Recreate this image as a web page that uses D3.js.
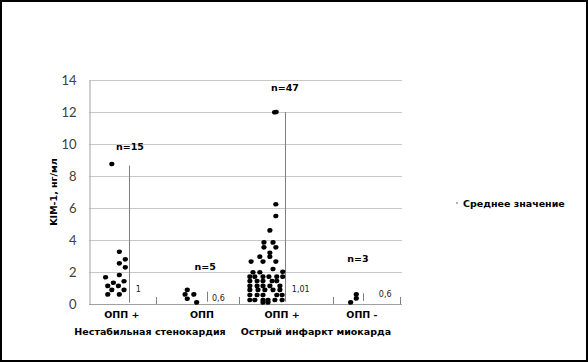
<!DOCTYPE html>
<html>
<head>
<meta charset="utf-8">
<script src="https://cdn.jsdelivr.net/npm/d3@7"></script>
<style>
  body { margin: 0; background: #fff; }
  svg { display: block; }
  .grid line { stroke: #c8c8c8; }
  .tick-lbl { font-family: Lato, sans-serif; font-size: 13px; fill: #404040; }
  .bold { font-family: 'DejaVu Sans', sans-serif; font-weight: bold; font-size: 9.5px; fill: #000; }
  .mean-lbl { font-family: 'DejaVu Sans', sans-serif; font-size: 8px; fill: #222; }
</style>
</head>
<body>
<div id="chart"></div>
<script>
// KIM-1 values, ng/ml; x is the jitter position along the group axis
const unstableAnginaAKIPos = [
  [0.73, 8.75], [0.97, 3.27], [0.97, 2.54], [1.16, 2.79], [1.16, 2.29],
  [0.97, 1.81], [0.53, 1.67], [0.60, 1.13], [0.78, 1.33], [0.94, 1.13],
  [1.12, 1.42], [0.73, 0.88], [1.12, 0.88], [0.60, 0.60], [0.97, 0.60]
];
const unstableAnginaAKINeg = [
  [3.14, 0.88], [3.07, 0.60], [3.35, 0.60], [3.14, 0.33], [3.44, 0.10]
];
const infarctionAKIPos = [
  [5.93, 11.98], [5.98, 12.0], [5.97, 6.23], [5.97, 5.5], [5.78, 4.6],
  [5.59, 3.85], [5.88, 3.85], [5.59, 3.54], [5.97, 3.54], [5.78, 3.2],
  [5.46, 2.96], [5.78, 2.96], [5.18, 2.65], [5.56, 2.65], [5.97, 2.65],
  [5.88, 2.19], [5.24, 1.98], [5.46, 1.98], [6.19, 2.02],
  [5.14, 1.71], [5.30, 1.71], [5.56, 1.71], [5.75, 1.71], [6.00, 1.71], [6.19, 1.71],
  [5.14, 1.44], [5.37, 1.44], [5.56, 1.44], [5.85, 1.44], [6.00, 1.44],
  [5.14, 1.13], [5.37, 1.13], [5.56, 1.13], [5.78, 1.13], [6.10, 1.13],
  [5.14, 0.88], [5.40, 0.88], [5.62, 0.88], [5.88, 0.88], [6.10, 0.88],
  [5.14, 0.56], [5.37, 0.56], [5.56, 0.56], [6.00, 0.56], [6.17, 0.56],
  [5.14, 0.25], [5.30, 0.25], [5.56, 0.25], [5.72, 0.25], [5.94, 0.25], [6.17, 0.25],
  [5.56, 0.10], [5.72, 0.10]
];
const infarctionAKINeg = [
  [8.36, 0.10], [8.54, 0.35], [8.54, 0.60]
];

// vertical range lines: [x, yLow, yHigh]
const rangeLines = [
  [1.27, 0.08, 8.65], [3.77, 0.14, 0.77], [6.26, 0.14, 12.0], [8.74, 0.19, 0.67]
];
// mean labels: [x, y, text]
const meanLabels = [
  [1.49, 0.96, '1'], [3.93, 0.37, '0,6'], [6.48, 0.96, '1,01'], [9.26, 0.62, '0,6']
];
// group sizes: [x, y, text]
const countLabels = [
  [1.31, 9.8, 'n=15'], [3.71, 2.3, 'n=5'], [6.26, 13.5, 'n=47'], [8.59, 2.8, 'n=3']
];
const separators = [2.14, 4.79, 7.80, 9.94];
const subgroupLabels = [[1.05, 'ОПП +'], [3.61, 'ОПП'], [6.17, 'ОПП +'], [8.72, 'ОПП -']];
const groupLabels = [[1.95, 'Нестабильная стенокардия'], [7.25, 'Острый инфаркт миокарда']];
const yTicks = [0, 2, 4, 6, 8, 10, 12, 14];
const yTitle = 'KIM-1, нг/мл';
const legendText = 'Среднее значение';

const width = 588, height = 362;
const margin = { top: 80, right: 186, bottom: 58, left: 89 };

const svg = d3.select('#chart').append('svg')
  .attr('width', width)
  .attr('height', height);

svg.append('rect')
  .attr('x', 1).attr('y', 1)
  .attr('width', width - 2).attr('height', height - 2)
  .attr('fill', '#fff')
  .attr('stroke', '#000')
  .attr('stroke-width', 2);

const x = d3.scaleLinear().domain([0, 10]).range([margin.left, width - margin.right]);
const y = d3.scaleLinear().domain([0, 14]).range([height - margin.bottom, margin.top]);

// gridlines
svg.append('g').attr('class', 'grid')
  .selectAll('line')
  .data(yTicks)
  .enter().append('line')
  .attr('x1', x(0)).attr('x2', x(10))
  .attr('y1', d => Math.round(y(d)) + 0.5)
  .attr('y2', d => Math.round(y(d)) + 0.5);

// y axis
const yAxis = svg.append('g')
  .attr('transform', `translate(${x(0) + 0.5},0)`)
  .call(d3.axisLeft(y).tickValues(yTicks).tickSize(0).tickPadding(13));
yAxis.select('.domain').attr('stroke', '#a0a0a0');
yAxis.selectAll('text').attr('class', 'tick-lbl').attr('font-family', null).attr('font-size', null);

// x baseline and group separators
svg.append('line')
  .attr('x1', x(0)).attr('x2', x(10))
  .attr('y1', Math.round(y(0)) + 0.5).attr('y2', Math.round(y(0)) + 0.5)
  .attr('stroke', '#a0a0a0');
svg.append('g').selectAll('line')
  .data(separators)
  .enter().append('line')
  .attr('x1', d => Math.round(x(d)) + 0.5).attr('x2', d => Math.round(x(d)) + 0.5)
  .attr('y1', y(0)).attr('y2', y(0) - 7)
  .attr('stroke', '#808080');

svg.append('text')
  .attr('class', 'bold')
  .attr('transform', `translate(57,${(y(0) + y(14)) / 2}) rotate(-90)`)
  .attr('text-anchor', 'middle')
  .text(yTitle);

// range lines
svg.append('g').selectAll('line')
  .data(rangeLines)
  .enter().append('line')
  .attr('x1', d => Math.round(x(d[0])) + 0.5).attr('x2', d => Math.round(x(d[0])) + 0.5)
  .attr('y1', d => y(d[1])).attr('y2', d => y(d[2]))
  .attr('stroke', '#7f7f7f');

// dots
const allPoints = [].concat(unstableAnginaAKIPos, unstableAnginaAKINeg, infarctionAKIPos, infarctionAKINeg);
svg.append('g').selectAll('ellipse')
  .data(allPoints)
  .enter().append('ellipse')
  .attr('cx', d => x(d[0]))
  .attr('cy', d => y(d[1]))
  .attr('rx', 2.6).attr('ry', 2.3)
  .attr('fill', '#000');

svg.append('g').selectAll('text')
  .data(meanLabels)
  .enter().append('text')
  .attr('class', 'mean-lbl')
  .attr('x', d => x(d[0]))
  .attr('y', d => y(d[1]) + 3)
  .text(d => d[2]);

svg.append('g').selectAll('text')
  .data(countLabels)
  .enter().append('text')
  .attr('class', 'bold')
  .attr('text-anchor', 'middle')
  .attr('x', d => x(d[0]))
  .attr('y', d => y(d[1]) + 3)
  .text(d => d[2]);

svg.append('g').selectAll('text')
  .data(subgroupLabels)
  .enter().append('text')
  .attr('class', 'bold')
  .attr('text-anchor', 'middle')
  .attr('x', d => x(d[0]))
  .attr('y', y(0) + 14)
  .text(d => d[1]);

svg.append('g').selectAll('text')
  .data(groupLabels)
  .enter().append('text')
  .attr('class', 'bold')
  .attr('text-anchor', 'middle')
  .attr('x', d => x(d[0]))
  .attr('y', y(0) + 31)
  .text(d => d[1]);

// legend
const legend = svg.append('g').attr('transform', 'translate(457,203)');
legend.append('circle').attr('r', 1).attr('fill', '#999');
legend.append('text')
  .attr('class', 'bold')
  .attr('x', 6).attr('y', 3.5)
  .text(legendText);
</script>
</body>
</html>
